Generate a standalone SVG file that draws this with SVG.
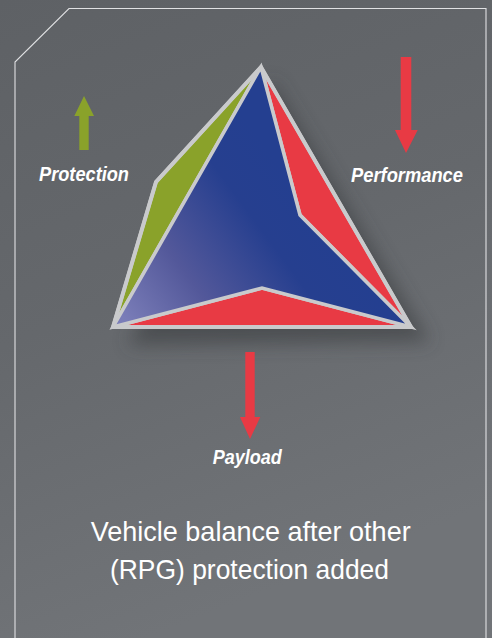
<svg xmlns="http://www.w3.org/2000/svg" width="492" height="638" viewBox="0 0 492 638">
<defs>
<linearGradient id="bg" x1="0" y1="0" x2="0.3" y2="1">
<stop offset="0" stop-color="#5e6165"/>
<stop offset="0.5" stop-color="#65686c"/>
<stop offset="1" stop-color="#717478"/>
</linearGradient>
<linearGradient id="blue" gradientUnits="userSpaceOnUse" x1="125" y1="320" x2="300" y2="190">
<stop offset="0" stop-color="#7a7db8"/>
<stop offset="0.35" stop-color="#53589a"/>
<stop offset="0.75" stop-color="#263f8f"/>
<stop offset="1" stop-color="#243f90"/>
</linearGradient>
<filter id="sh" x="-30%" y="-30%" width="160%" height="160%">
<feGaussianBlur stdDeviation="9"/>
</filter>
<style>
.lbl{font-family:"Liberation Sans",Arial,sans-serif;font-weight:bold;font-style:italic;font-size:19.5px;fill:#ffffff}
.cap{font-family:"Liberation Sans",Arial,sans-serif;font-size:28.5px;fill:#ffffff}
.edge{stroke:#c9cacc;stroke-width:3.5;stroke-linejoin:miter}
</style>
</defs>
<rect width="492" height="638" fill="url(#bg)"/>
<path d="M15,638 V62 L69,8.5 H486 V638" fill="none" stroke="#e0e1e3" stroke-width="1.1"/>

<g id="triangle">
<polygon points="272,80 430,342 128,345" fill="#3a3c40" opacity="0.6" filter="url(#sh)"/>
<polygon class="edge" points="261,67 156,182 113,327" fill="#8aa22a"/>
<polygon class="edge" points="261,67 411,327 300,215" fill="#e83a44"/>
<polygon class="edge" points="113,327 262,288 411,327" fill="#e83a44"/>
<polygon class="edge" points="261,67 300,215 411,327 262,288 113,327" fill="url(#blue)"/>
<polygon points="261,67 156,182 113,327 411,327" fill="none" stroke="#c9cacc" stroke-width="4" stroke-linejoin="miter"/>
</g>

<g id="protection">
<polygon points="84,96 94,116 88.7,116 88.7,150 79.3,150 79.3,116 74.3,116" fill="#8aa22a"/>
<text class="lbl" x="39" y="181" textLength="90" lengthAdjust="spacingAndGlyphs">Protection</text>
</g>

<g id="performance">
<polygon points="400.7,57 411.3,57 411.3,130 417.7,130 406,153 395,130 400.7,130" fill="#e83a44"/>
<text class="lbl" x="351" y="181.5" textLength="112" lengthAdjust="spacingAndGlyphs">Performance</text>
</g>

<g id="payload">
<polygon points="245.3,352 254.7,352 254.7,417 260.3,417 250,439 240,417 245.3,417" fill="#e83a44"/>
<text class="lbl" x="212.7" y="464" textLength="69" lengthAdjust="spacingAndGlyphs">Payload</text>
</g>

<g id="caption">
<text class="cap" x="90.7" y="541" textLength="320" lengthAdjust="spacingAndGlyphs">Vehicle balance after other</text>
<text class="cap" x="110" y="579" textLength="279" lengthAdjust="spacingAndGlyphs">(RPG) protection added</text>
</g>
<g id="connectors"></g>
</svg>
